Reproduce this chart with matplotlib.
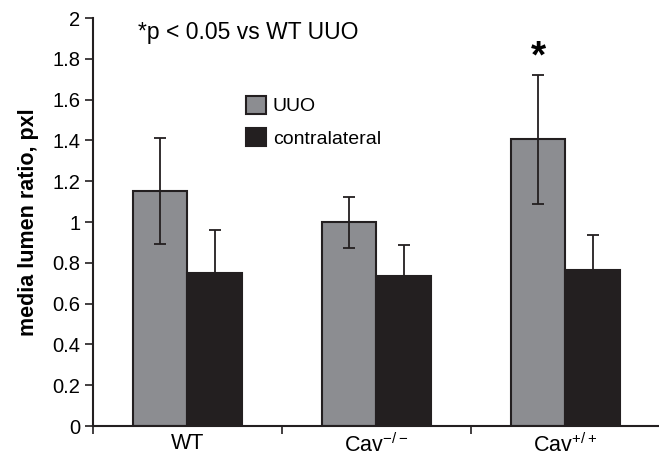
import numpy as np
import matplotlib
matplotlib.use('Agg')
import matplotlib.pyplot as plt
from matplotlib.patches import Patch

plt.rcParams['font.family'] = ['Liberation Sans', 'DejaVu Sans']
plt.rcParams['mathtext.fontset'] = 'custom'
plt.rcParams['mathtext.rm'] = 'Liberation Sans'

# 数据
groups = ['WT', r'Cav$^{\mathregular{-/-}}$', r'Cav$^{\mathregular{+/+}}$']
uuo = [1.15, 1.0, 1.405]
uuo_err = [0.26, 0.125, 0.315]
contra = [0.75, 0.735, 0.765]
contra_err = [0.21, 0.152, 0.172]
series_names = ['UUO', 'contralateral']

gray = '#8c8d91'
dark = '#231f20'

fig = plt.figure(figsize=(6.59, 4.55), dpi=100)
ax = fig.add_axes([93 / 659, 1 - 426 / 455, 1 - 93 / 659, 408 / 455])

x = np.arange(len(groups))
w = 0.288
ax.bar(x - w / 2, uuo, w, color=gray, edgecolor=dark, linewidth=1.5, zorder=2)
ax.bar(x + w / 2, contra, w, color=dark, edgecolor=dark, linewidth=1.5, zorder=2)

# 误差线（对照组只画上半部分）
ax.errorbar(x - w / 2, uuo, yerr=uuo_err, fmt='none', ecolor=dark,
            elinewidth=1.3, capsize=4, capthick=1.3, zorder=3)
ax.errorbar(x + w / 2, contra, yerr=[np.zeros(len(contra)), contra_err], fmt='none',
            ecolor=dark, elinewidth=1.3, capsize=4, capthick=1.3, zorder=3)

ax.set_xlim(-0.5, 2.495)
ax.set_ylim(0, 2)
ax.set_yticks(np.arange(0, 2.01, 0.2))
ax.set_yticklabels(['0'] + ['%g' % v for v in np.arange(0.2, 2.01, 0.2)])
ax.set_xticks([-0.5, 0.5, 1.5])
ax.set_xticklabels(['', '', ''])
ax.set_xticks(x, minor=True)
ax.set_xticklabels(groups, minor=True, fontsize=15.5)
ax.tick_params(axis='x', which='minor', length=0, pad=5)
ax.tick_params(axis='x', which='major', length=6, width=1.2, direction='out', color=dark)
ax.tick_params(axis='y', length=6, width=1.2, direction='out', color=dark, labelsize=14.5, pad=3)

for s in ['top', 'right']:
    ax.spines[s].set_visible(False)
for s in ['left', 'bottom']:
    ax.spines[s].set_linewidth(1.5)
    ax.spines[s].set_color(dark)

ax.set_ylabel('media lumen ratio, pxl', fontsize=15.5, fontweight='bold', labelpad=10)

fig.text(138 / 659, 1 - 32 / 455, '*p < 0.05 vs WT UUO', fontsize=16.5, va='center', ha='left')
ax.text(x[2] - w / 2, uuo[2] + uuo_err[2] + 0.085, '*', fontsize=28, fontweight='bold',
        ha='center', va='center')

handles = [Patch(facecolor=gray, edgecolor=dark, linewidth=1.5),
           Patch(facecolor=dark, edgecolor=dark, linewidth=1.5)]
ax.legend(handles, series_names, loc='upper left', bbox_to_anchor=(236 / 659, 1 - 86 / 455),
          bbox_transform=fig.transFigure, frameon=False, fontsize=14, borderpad=0,
          handlelength=1.05, handleheight=1.05, handletextpad=0.35, labelspacing=0.65)

fig.savefig('out.png', dpi=100)
